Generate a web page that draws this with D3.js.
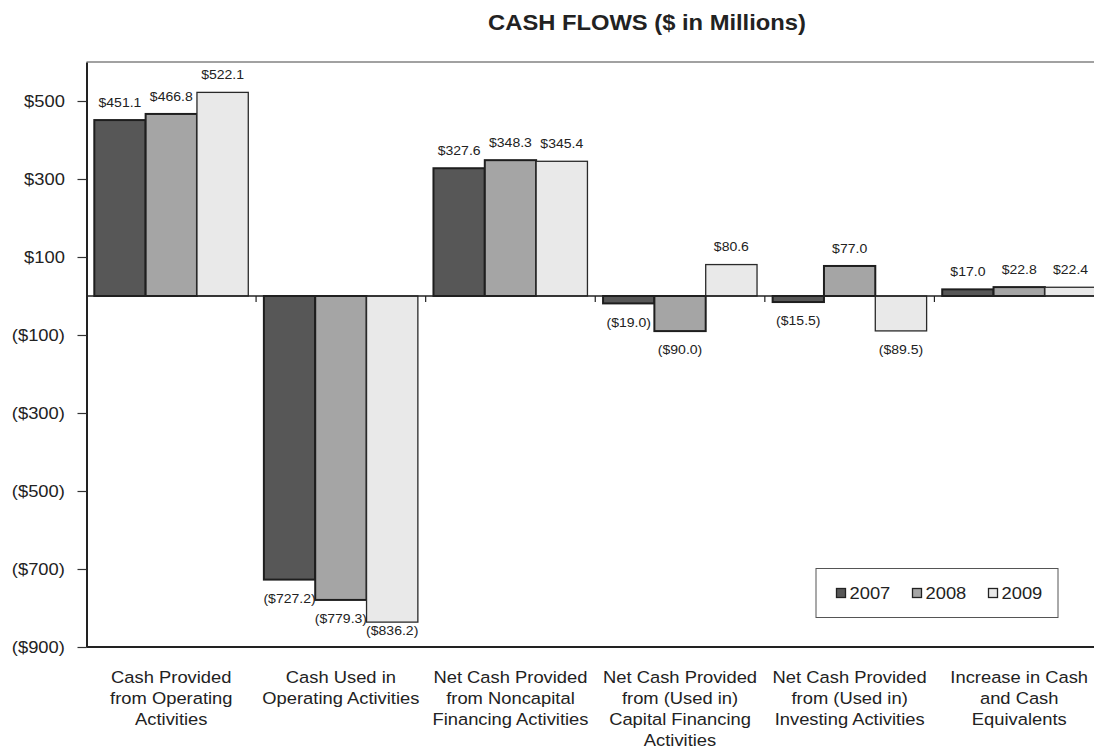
<!DOCTYPE html>
<html>
<head>
<meta charset="utf-8">
<script src="https://cdn.jsdelivr.net/npm/d3@7/dist/d3.min.js"></script>
<style>
  html, body { margin: 0; padding: 0; background: #fff; }
  svg { display: block; font-family: "Liberation Sans", Arial, Helvetica, sans-serif; }
</style>
</head>
<body>
<svg id="chart" width="1094" height="750"></svg>
<script>
// Cash flow categories (line breaks mark the wrapped label lines)
const categories = [
  "Cash Provided\nfrom Operating\nActivities",
  "Cash Used in\nOperating Activities",
  "Net Cash Provided\nfrom Noncapital\nFinancing Activities",
  "Net Cash Provided\nfrom (Used in)\nCapital Financing\nActivities",
  "Net Cash Provided\nfrom (Used in)\nInvesting Activities",
  "Increase in Cash\nand Cash\nEquivalents"
];
const years = ["2007", "2008", "2009"];
const values2007 = [451.1, -727.2, 327.6, -19.0, -15.5, 17.0];
const values2008 = [466.8, -779.3, 348.3, -90.0, 77.0, 22.8];
const values2009 = [522.1, -836.2, 345.4, 80.6, -89.5, 22.4];
const yTicks = [-900, -700, -500, -300, -100, 100, 300, 500];
const yDomain = [-900, 600];
const title = "CASH FLOWS ($ in Millions)";

const seriesValues = [values2007, values2008, values2009];
const fills = ["#575757", "#a5a5a5", "#e9e9e9"];
const strokes = ["#1e1e1e", "#1e1e1e", "#2a2a2a"];
const strokeW = [2, 2, 1.3];

// Text in this chart is set slightly wide
const SX = 1.08;

const svg = d3.select("#chart");
const plotLeft = 86.5, plotRight = 1104, plotTop = 62, plotBottom = 647;

const x = d3.scaleBand().domain(d3.range(categories.length)).range([plotLeft, plotRight]).padding(0);
const gap = x.bandwidth() * 0.046;
const xi = d3.scaleBand().domain(d3.range(years.length)).range([gap, x.bandwidth() - gap]).padding(0);
const y = d3.scaleLinear().domain(yDomain).range([plotBottom, plotTop]);

const money = v => v < 0 ? "($" + Math.abs(v) + ")" : "$" + v;
const money1 = v => v < 0 ? "($" + Math.abs(v).toFixed(1) + ")" : "$" + v.toFixed(1);

// Title
svg.append("text")
  .attr("transform", `translate(647,22) scale(${SX},1)`)
  .attr("text-anchor", "middle")
  .attr("dominant-baseline", "central")
  .attr("font-size", 22).attr("font-weight", "bold").attr("fill", "#222")
  .text(title);

// Plot frame: top edge
svg.append("line").attr("x1", plotLeft).attr("x2", plotRight).attr("y1", plotTop).attr("y2", plotTop)
  .attr("stroke", "#444").attr("stroke-width", 1.2);

// Bars
const rows = [];
categories.forEach((c, ci) => years.forEach((yr, si) => rows.push({ ci, si, v: seriesValues[si][ci] })));

svg.append("g").selectAll("rect").data(rows).join("rect")
  .attr("x", d => x(d.ci) + xi(d.si))
  .attr("width", xi.bandwidth())
  .attr("y", d => y(Math.max(0, d.v)))
  .attr("height", d => Math.abs(y(d.v) - y(0)))
  .attr("fill", d => fills[d.si])
  .attr("stroke", d => strokes[d.si])
  .attr("stroke-width", d => strokeW[d.si]);

// Zero line with category separators
svg.append("line").attr("x1", plotLeft).attr("x2", plotRight).attr("y1", y(0)).attr("y2", y(0))
  .attr("stroke", "#222").attr("stroke-width", 1.6);
svg.append("g").selectAll("line").data(d3.range(1, categories.length)).join("line")
  .attr("x1", d => x(d)).attr("x2", d => x(d))
  .attr("y1", y(0)).attr("y2", y(0) + 6)
  .attr("stroke", "#222").attr("stroke-width", 1.2);

// Bottom edge
svg.append("line").attr("x1", plotLeft).attr("x2", plotRight).attr("y1", plotBottom).attr("y2", plotBottom)
  .attr("stroke", "#222").attr("stroke-width", 2);

// Y axis
const yAxis = svg.append("g").attr("transform", `translate(${plotLeft},0)`)
  .call(d3.axisLeft(y).tickValues(yTicks).tickFormat(money).tickSize(9).tickPadding(11).tickSizeOuter(0));
yAxis.select(".domain").attr("stroke", "#222").attr("stroke-width", 2);
yAxis.selectAll(".tick line").attr("stroke", "#333").attr("stroke-width", 1.2);
yAxis.selectAll(".tick text")
  .attr("font-size", 17).attr("fill", "#222")
  .attr("font-family", "\"Liberation Sans\", Arial, sans-serif")
  .attr("transform", `scale(${SX},1)`);

// Value labels
svg.append("g").selectAll("text").data(rows).join("text")
  .attr("text-anchor", "middle")
  .attr("dominant-baseline", "central")
  .attr("font-size", 13).attr("fill", "#222")
  .attr("transform", d => {
    const lx = x(d.ci) + xi(d.si) + xi.bandwidth() / 2;
    const ly = d.v >= 0 ? y(d.v) - 17.5 : Math.min(y(d.v) + 19, plotBottom - 16.5);
    return `translate(${lx},${ly}) scale(${SX},1)`;
  })
  .text(d => money1(d.v));

// Category labels
const catG = svg.append("g").selectAll("g").data(categories).join("g");
catG.each(function (c, ci) {
  const lines = c.split("\n");
  d3.select(this).selectAll("text").data(lines).join("text")
    .attr("text-anchor", "middle")
    .attr("dominant-baseline", "central")
    .attr("font-size", 17).attr("fill", "#222")
    .attr("transform", (l, li) => `translate(${x(ci) + x.bandwidth() / 2},${677 + li * 21}) scale(${SX},1)`)
    .text(l => l);
});

// Legend
const lg = svg.append("g");
lg.append("rect").attr("x", 816).attr("y", 568.5).attr("width", 242).attr("height", 49)
  .attr("fill", "#fff").attr("stroke", "#555").attr("stroke-width", 1);
const item = lg.selectAll("g.item").data(years).join("g").attr("class", "item")
  .attr("transform", (d, i) => `translate(${836.5 + i * 76},593)`);
item.append("rect").attr("x", 0).attr("y", -4.5).attr("width", 9).attr("height", 9)
  .attr("fill", (d, i) => fills[i]).attr("stroke", "#222").attr("stroke-width", 1.3);
item.append("text")
  .attr("transform", `translate(13,0) scale(${SX},1)`)
  .attr("dominant-baseline", "central")
  .attr("font-size", 17).attr("fill", "#222")
  .text(d => d);
</script>
</body>
</html>
